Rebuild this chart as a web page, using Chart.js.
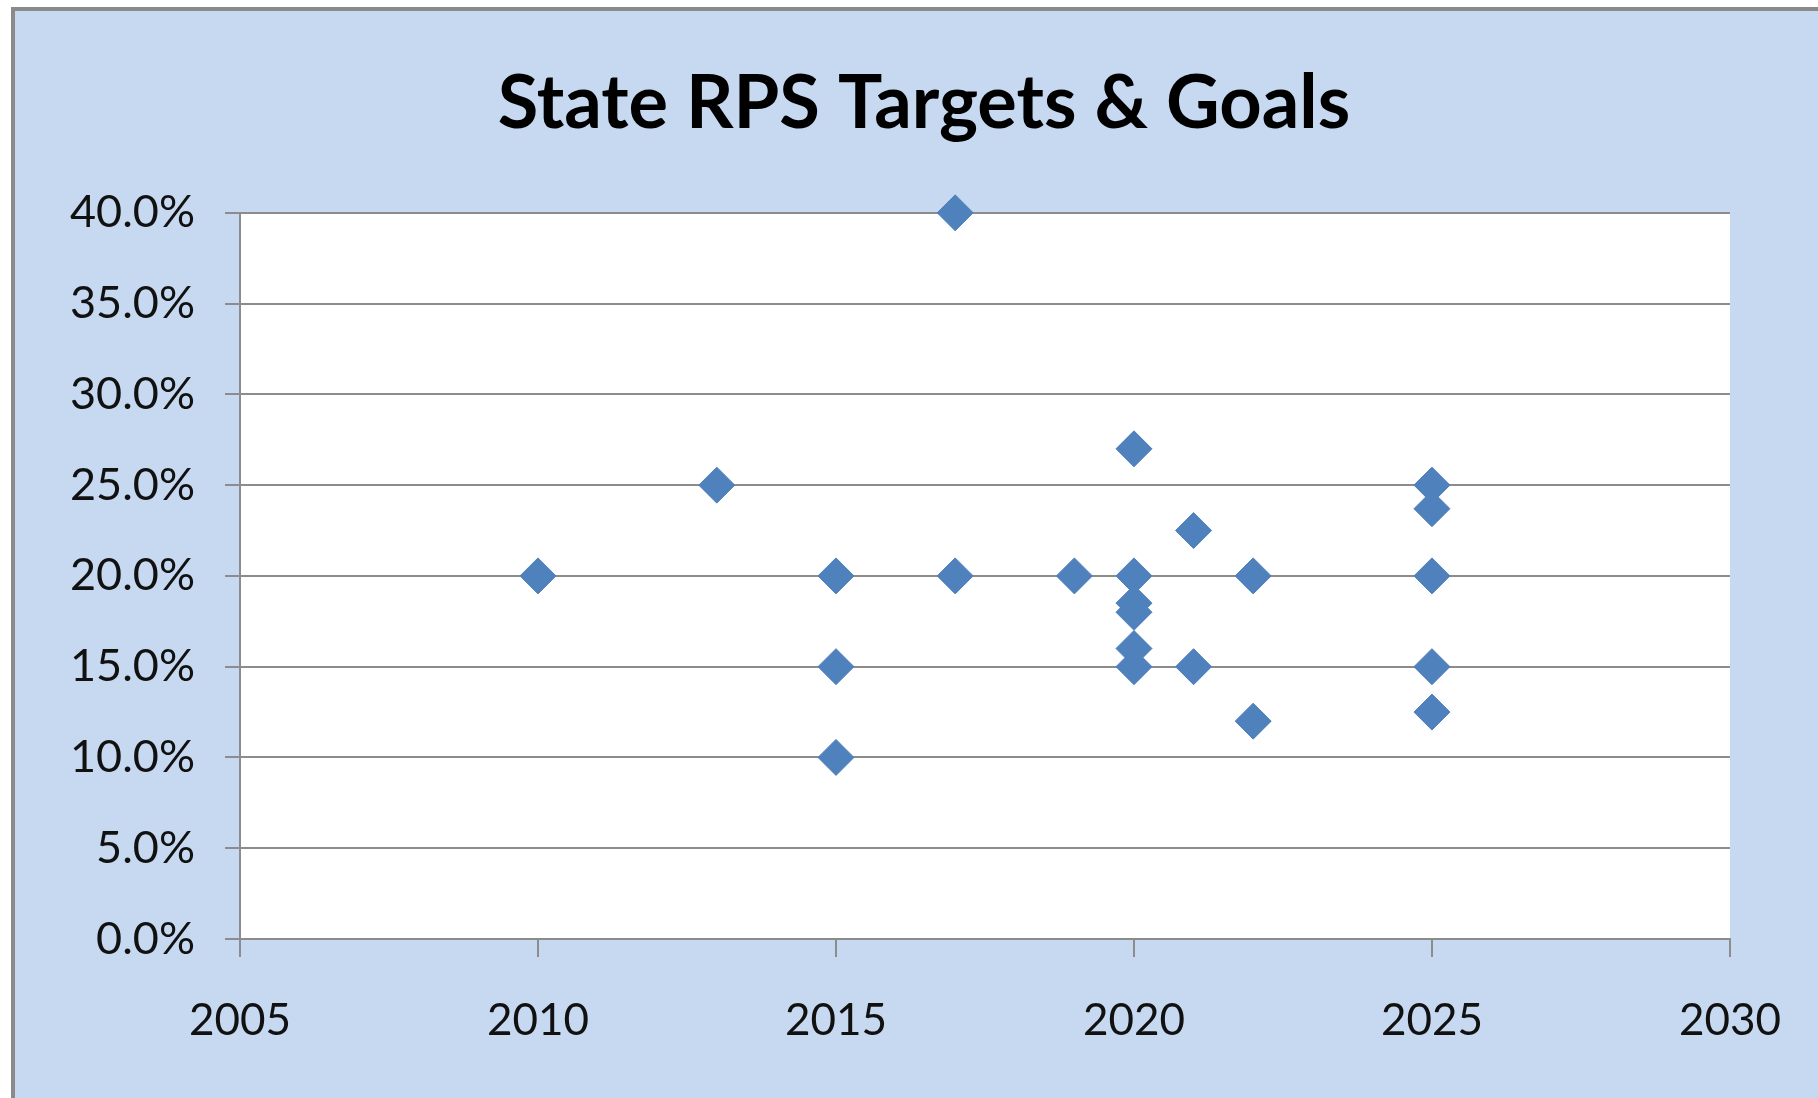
<!DOCTYPE html>
<html>
<head>
<meta charset="utf-8">
<script src="https://cdn.jsdelivr.net/npm/chart.js@4.4.1/dist/chart.umd.min.js"></script>
<style>
  html, body { margin: 0; padding: 0; background: #fff; overflow: hidden; }
  .panel {
    position: absolute; left: 11px; top: 7px; width: 1900px; height: 1200px;
    border-left: 4px solid #8a8a8a; border-top: 4px solid #8a8a8a;
    background: #c6d9f1;
  }
  #chart { position: absolute; left: 0; top: 0; }
</style>
</head>
<body>
<div class="panel"></div>
<canvas id="chart" width="1818" height="1098"></canvas>
<script>
// target year and RPS target (%) per state
const years = [2010, 2013, 2015, 2015, 2015, 2017, 2017, 2019, 2020, 2020, 2020, 2020, 2020, 2020,
               2021, 2021, 2022, 2022, 2025, 2025, 2025, 2025, 2025];
const targets = [20, 25, 20, 15, 10, 40, 20, 20, 27, 20, 18.5, 18, 16, 15,
                 22.5, 15, 20, 12, 25, 23.7, 20, 15, 12.5];
const yearTicks = [2005, 2030, 5];     // min, max, step
const pctTicks = [0, 40, 5];

const FONT = 'Lato, "Open Sans", sans-serif';

// white plot area
const plotBg = {
    id: 'plotBg',
    beforeDraw(chart) {
        const a = chart.chartArea;
        const ctx = chart.ctx;
        ctx.save();
        ctx.fillStyle = '#ffffff';
        ctx.fillRect(a.left, a.top, a.right - a.left, a.bottom - a.top);
        ctx.restore();
    }
};

// left padding is only there to centre the title like the original;
// let the y labels use the space so they are not clipped
const widenY = {
    id: 'widenY',
    afterLayout(chart) { chart.scales.y.left = 0; }
};

const ctx = document.getElementById('chart').getContext('2d');
new Chart(ctx, {
    type: 'scatter',
    data: {
        datasets: [{
            label: 'RPS target',
            data: years.map((y, i) => ({ x: y, y: targets[i] })),
            pointStyle: 'rectRot',
            pointRadius: 18,
            pointHoverRadius: 18,
            backgroundColor: '#4f81bd',
            borderColor: '#4f81bd',
            borderWidth: 1,
            clip: false
        }]
    },
    options: {
        responsive: false,
        animation: false,
        events: [],
        layout: { padding: { left: 118, right: 88, top: 0, bottom: 0 } },
        plugins: {
            legend: { display: false },
            tooltip: { enabled: false },
            title: {
                display: true,
                text: 'State RPS Targets & Goals',
                color: '#000',
                font: { family: FONT, size: 74, weight: 'bold', lineHeight: 1.2 },
                padding: { top: 60, bottom: 64 }
            }
        },
        scales: {
            x: {
                type: 'linear',
                min: yearTicks[0],
                max: yearTicks[1],
                afterFit(scale) { scale.height = 159; },
                ticks: {
                    stepSize: yearTicks[2],
                    color: '#111',
                    padding: 37,
                    font: { family: FONT, size: 44 },
                    callback: v => String(v)
                },
                grid: {
                    drawOnChartArea: false,
                    drawTicks: true,
                    tickLength: 18,
                    color: '#8c8c8c',
                    lineWidth: 2
                },
                border: { display: true, color: '#8c8c8c', width: 2 }
            },
            y: {
                min: pctTicks[0],
                max: pctTicks[1],
                afterFit(scale) { scale.width = 122; },
                ticks: {
                    stepSize: pctTicks[2],
                    color: '#111',
                    padding: 30,
                    font: { family: FONT, size: 45 },
                    callback: v => v.toFixed(1) + '%'
                },
                grid: {
                    drawTicks: true,
                    tickLength: 15,
                    color: '#8c8c8c',
                    lineWidth: 2
                },
                border: { display: true, color: '#8c8c8c', width: 2 }
            }
        }
    },
    plugins: [plotBg, widenY]
});
</script>
</body>
</html>
